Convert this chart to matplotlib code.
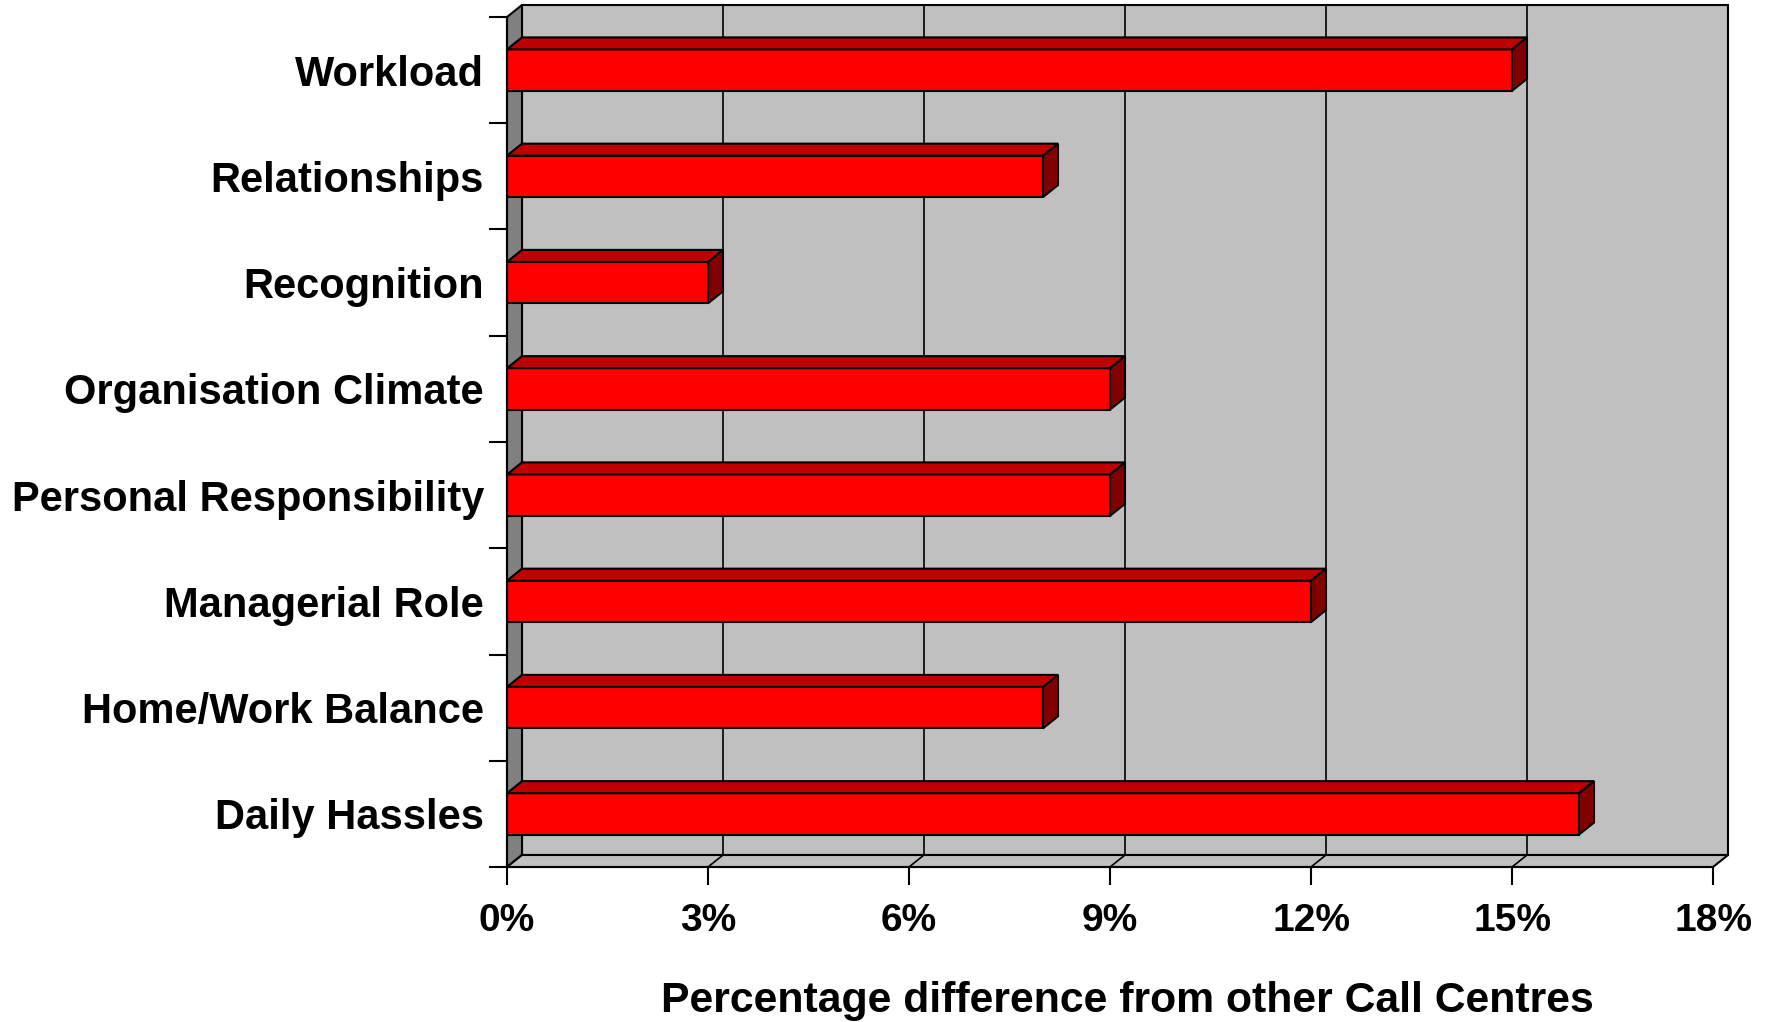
import numpy as np
import matplotlib
matplotlib.use('Agg')
import matplotlib.pyplot as plt
from matplotlib.patches import Polygon, Rectangle

# data (bottom to top)
categories = ['Daily Hassles', 'Home/Work Balance', 'Managerial Role', 'Personal Responsibility',
              'Organisation Climate', 'Recognition', 'Relationships', 'Workload']
values = [16, 8, 12, 9, 9, 3, 8, 15]
xticks = [0, 3, 6, 9, 12, 15, 18]
xticklabels = ['0%', '3%', '6%', '9%', '12%', '15%', '18%']
xlabel = 'Percentage difference from other Call Centres'

plt.rcParams['font.family'] = ['Liberation Sans', 'DejaVu Sans']
plt.rcParams['font.weight'] = 'bold'

W, H = 1776, 1022
fig = plt.figure(figsize=(W / 100, H / 100), dpi=100)
ax = fig.add_axes([507 / W, 155 / H, 1206 / W, 850 / H])
ax.set_facecolor('none')

xmax = xticks[-1]
n = len(categories)
y = np.arange(n)
ylo, yhi = -0.5, n - 0.5
ax.set_xlim(0, xmax)
ax.set_ylim(ylo, yhi)

# 3d depth offset in data units
dx = 15 / (1206 / xmax)
dy = 12 / (850 / n)
bh = 0.39
lw = 1.5

# walls and floor
ax.add_patch(Rectangle((dx, ylo + dy), xmax, yhi - ylo, fc='#C0C0C0', ec='black', lw=lw,
                       clip_on=False, zorder=0.5))
ax.add_patch(Polygon([(0, ylo), (dx, ylo + dy), (dx, yhi + dy), (0, yhi)], closed=True,
                     fc='#808080', ec='black', lw=lw, clip_on=False, zorder=0.6))
ax.add_patch(Polygon([(0, ylo), (xmax, ylo), (xmax + dx, ylo + dy), (dx, ylo + dy)], closed=True,
                     fc='#C0C0C0', ec='black', lw=lw, clip_on=False, zorder=0.6))

# gridlines on back wall and floor
for t in xticks[1:-1]:
    ax.plot([t + dx, t + dx], [ylo + dy, yhi + dy], color='black', lw=1.2, zorder=0.7, clip_on=False)
    ax.plot([t, t + dx], [ylo, ylo + dy], color='black', lw=1.2, zorder=0.7, clip_on=False)

# bars: front face, top face, end face
ax.barh(y, values, height=bh, color='#FF0000', edgecolor='black', lw=lw, zorder=3)
for yi, v in zip(y, values):
    top = yi + bh / 2
    bot = yi - bh / 2
    ax.add_patch(Polygon([(0, top), (v, top), (v + dx, top + dy), (dx, top + dy)], closed=True,
                         fc='#C00000', ec='black', lw=lw, zorder=3, clip_on=False))
    ax.add_patch(Polygon([(v, bot), (v + dx, bot + dy), (v + dx, top + dy), (v, top)], closed=True,
                         fc='#800000', ec='black', lw=lw, zorder=3, clip_on=False))

# axes styling
for s in ['top', 'right']:
    ax.spines[s].set_visible(False)
for s in ['left', 'bottom']:
    ax.spines[s].set_linewidth(lw)
    ax.spines[s].set_zorder(4)

ax.set_xticks(xticks, xticklabels, fontsize=28, fontweight='bold')
ax.tick_params(axis='x', direction='out', length=13, width=lw, pad=13)
ax.set_yticks(y, categories, fontsize=30, fontweight='bold')
ax.set_yticks(np.arange(ylo, yhi + 0.1, 1), minor=True)
ax.tick_params(axis='y', which='major', length=0, pad=16.5)
ax.tick_params(axis='y', which='minor', direction='out', length=13, width=lw)

ax.set_xlabel(xlabel, fontsize=30.75, fontweight='bold', va='baseline')
ax.xaxis.set_label_coords((1127 - 507) / 1206, (1022 - 1012 - 155) / 850)

fig.savefig('out.png', dpi=100)
